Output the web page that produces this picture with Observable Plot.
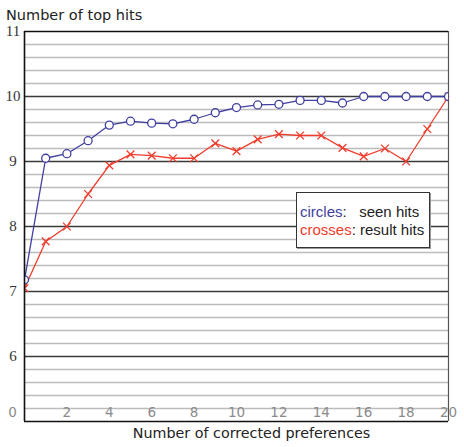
<!DOCTYPE html>
<html>
<head>
<meta charset="utf-8">
<script src="https://cdn.jsdelivr.net/npm/d3@7"></script>
<script src="https://cdn.jsdelivr.net/npm/@observablehq/plot@0.6"></script>
<style>
  html, body { margin: 0; padding: 0; background: #fff; }
  #wrap { position: relative; width: 464px; height: 447px; overflow: hidden; }
  #title { position: absolute; left: 6px; top: 7px; font: 14.5px "DejaVu Sans", sans-serif; color: #222; white-space: nowrap; }
  #legend { position: absolute; left: 296px; top: 192px; width: 134px; height: 56px; box-sizing: border-box;
            border: 1px solid #333; background: #fff; box-shadow: 1px 1px 0 #999;
            font: 15px "Liberation Sans", Arial, sans-serif; color: #222; padding: 10px 0 0 3px; line-height: 18px; white-space: pre; }
  #plot { position: absolute; left: 0; top: 0; }
</style>
</head>
<body>
<div id="wrap">
  <div id="plot"></div>
  <div id="title">Number of top hits</div>
  <div id="legend"><span style="color:#3f3fa0">circles</span>:   seen hits
<span style="color:#f03c2c">crosses</span>: result hits</div>
</div>
<script>
const prefs = [0, 1, 2, 3, 4, 5, 6, 7, 8, 9, 10, 11, 12, 13, 14, 15, 16, 17, 18, 19, 20];
const seenHits = [7.18, 9.05, 9.12, 9.32, 9.56, 9.62, 9.59, 9.58, 9.65, 9.75, 9.83, 9.87, 9.88, 9.94, 9.94, 9.90, 10.0, 10.0, 10.0, 10.0, 10.0];
const resultHits = [7.05, 7.77, 8.0, 8.5, 8.94, 9.11, 9.09, 9.05, 9.05, 9.28, 9.16, 9.34, 9.42, 9.40, 9.40, 9.21, 9.08, 9.20, 9.0, 9.5, 10.0];
const yTickLabels = [6, 7, 8, 9, 10, 11];
const xTickLabels = [2, 4, 6, 8, 10, 12, 14, 16, 18, 20];
const xZeroLabel = [0];

const seen = prefs.map((x, i) => ({x, y: seenHits[i]}));
const result = prefs.map((x, i) => ({x, y: resultHits[i]}));
const majorGrid = [6, 7, 8, 9, 10];
const minorGrid = d3.range(26, 55).map(k => k / 5).filter(v => Math.abs(v - Math.round(v)) > 1e-6);

const blue = "#3f3fa0";
const red = "#f03c2c";

const chart = Plot.plot({
  width: 464,
  height: 447,
  marginLeft: 24,
  marginRight: 16,
  marginTop: 31,
  marginBottom: 26,
  x: {domain: [0, 20], axis: null},
  y: {domain: [5, 11], axis: null},
  style: {background: "transparent", overflow: "visible"},
  marks: [
    Plot.ruleY(minorGrid, {stroke: "#bcbcbc", strokeWidth: 1.5}),
    Plot.ruleY(majorGrid, {stroke: "#3a3a3a", strokeWidth: 1.3}),
    Plot.ruleY([11], {stroke: "#111", strokeWidth: 1.3}),
    Plot.ruleX([20], {stroke: "#555", strokeWidth: 1.2}),
    Plot.ruleY([5], {stroke: "#111", strokeWidth: 1.6}),
    Plot.text(xTickLabels, {x: d => d, y: 5, dy: -9, lineAnchor: "middle", textAnchor: "middle",
      fill: "#8a8a8a", fontSize: 13.5, fontFamily: "DejaVu Sans, sans-serif", text: d => String(d)}),
    Plot.text(xZeroLabel, {x: d => d, y: 5, dy: -9, dx: -12, lineAnchor: "middle", textAnchor: "middle",
      fill: "#8a8a8a", fontSize: 13.5, fontFamily: "DejaVu Sans, sans-serif", text: d => String(d)}),
    Plot.text(yTickLabels, {y: d => d, frameAnchor: "left", dx: -11.5, lineAnchor: "middle", textAnchor: "middle",
      fill: "#333", fontSize: 15, fontFamily: "Liberation Serif, serif", text: d => String(d)}),
    Plot.text(["Number of corrected preferences"], {frameAnchor: "bottom", dy: 11.5, dx: 15, lineAnchor: "middle",
      textAnchor: "middle", fill: "#222", fontSize: 14.3, fontFamily: "DejaVu Sans, sans-serif", text: d => d}),
    Plot.line(result, {x: "x", y: "y", stroke: red, strokeWidth: 1.3}),
    Plot.dot(result, {x: "x", y: "y", symbol: "times", r: 3.6, stroke: red, strokeWidth: 1.3, clip: "frame"}),
    Plot.line(seen, {x: "x", y: "y", stroke: blue, strokeWidth: 1.3}),
    Plot.dot(seen, {x: "x", y: "y", r: 4, fill: "white", stroke: blue, strokeWidth: 1.3, clip: "frame"}),
    Plot.ruleX([0], {stroke: "#111", strokeWidth: 1.6})
  ]
});
document.getElementById("plot").appendChild(chart);
</script>
</body>
</html>
